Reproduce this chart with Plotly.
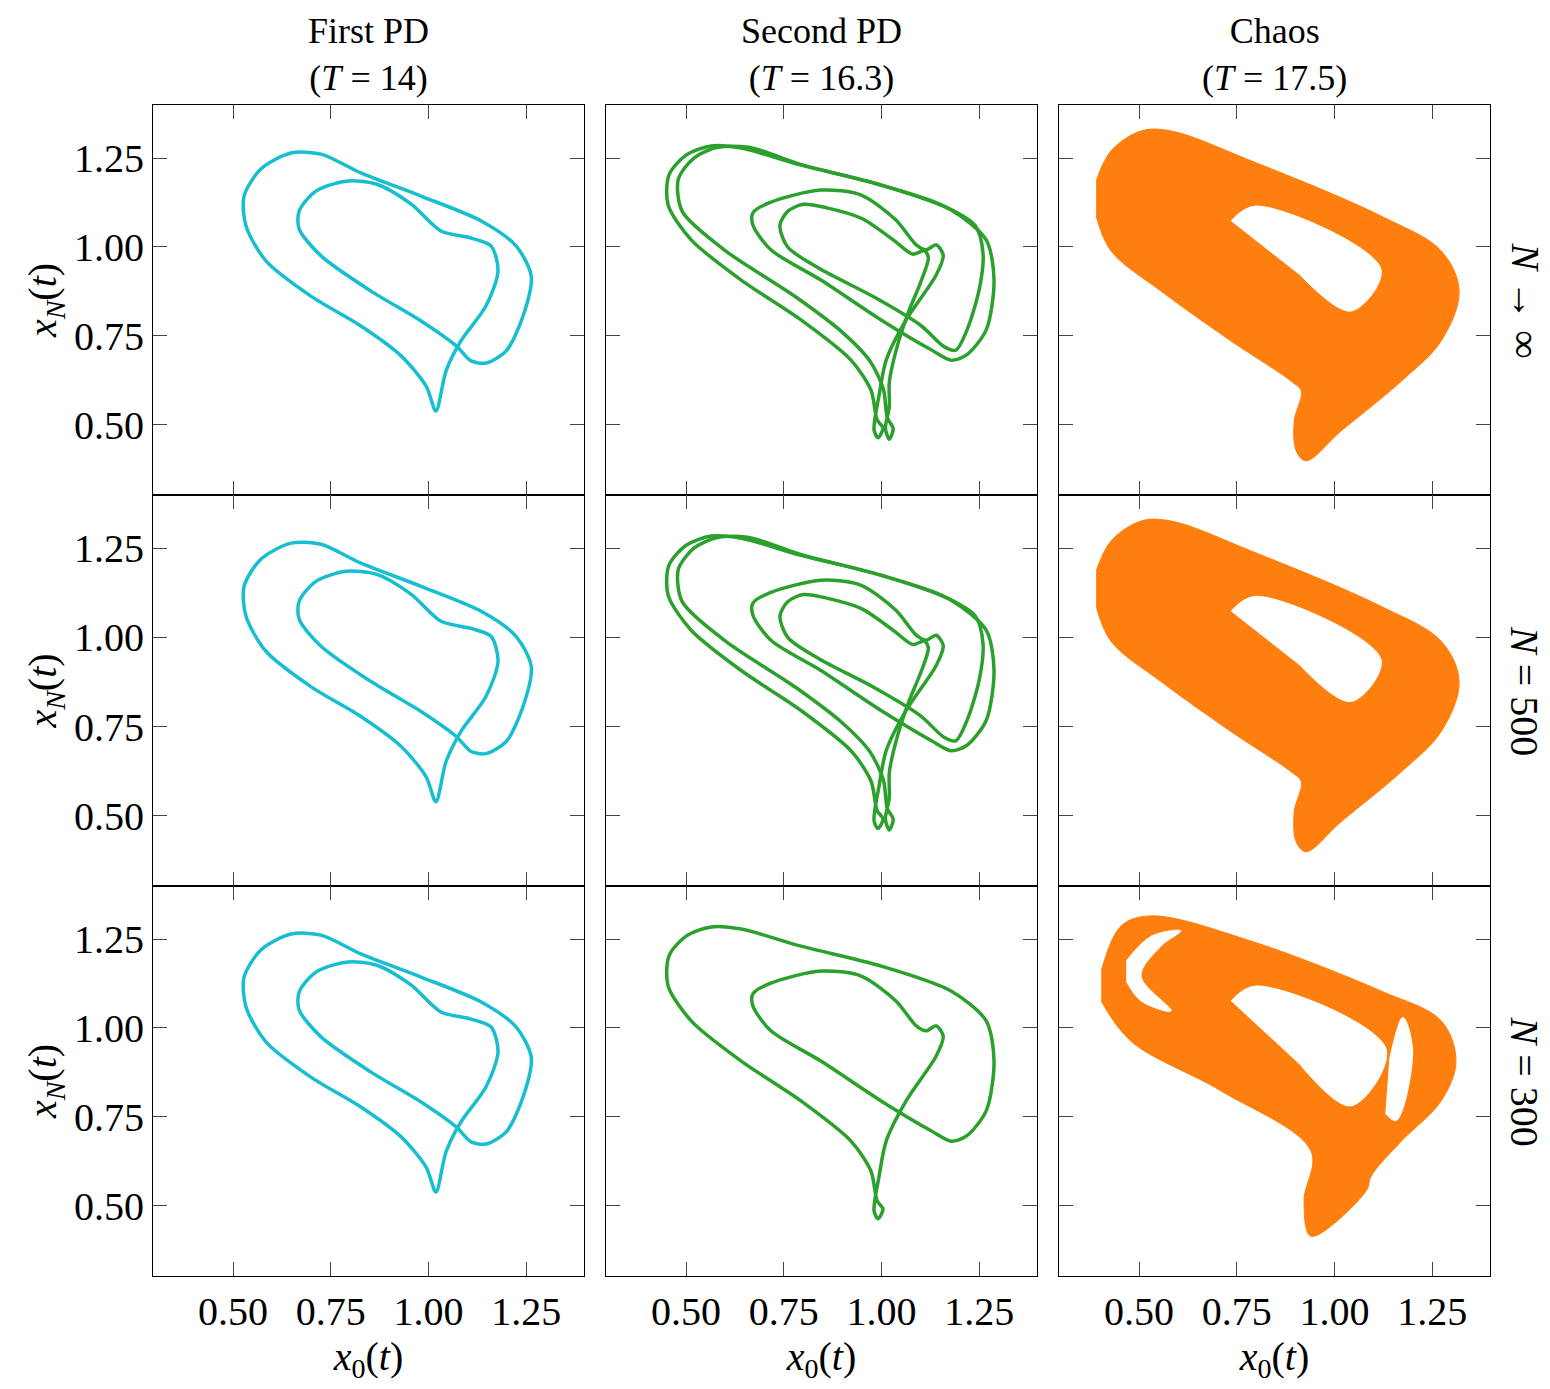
import plotly.graph_objects as go
from plotly.subplots import make_subplots

CYAN, GREEN, ORANGE = "#17becf", "#2ca02c", "#ff7f0e"

col_titles = ["First PD<br>(<i>T</i> = 14)", "Second PD<br>(<i>T</i> = 16.3)", "Chaos<br>(<i>T</i> = 17.5)"]
row_labels = ["<i>N</i> → ∞", "<i>N</i> = 500", "<i>N</i> = 300"]
tick_vals = [0.5, 0.75, 1.0, 1.25]
tick_text = ["0.50", "0.75", "1.00", "1.25"]

# First PD orbit (period 2)
pd1_x = [1.019, 0.994, 0.930, 0.827, 0.699, 0.584, 0.533, 0.528, 0.571, 0.648, 0.725, 0.827, 0.981, 1.135,
         1.224, 1.263, 1.242, 1.199, 1.147, 1.109, 1.071, 0.981, 0.853, 0.725, 0.669, 0.669, 0.712, 0.789,
         0.866, 0.955, 1.032, 1.109, 1.160, 1.178, 1.147, 1.083, 1.045, 1.019]
pd1_y = [0.539, 0.609, 0.694, 0.778, 0.862, 0.961, 1.059, 1.143, 1.219, 1.264, 1.261, 1.208, 1.143, 1.073,
         1.003, 0.918, 0.806, 0.708, 0.674, 0.680, 0.722, 0.792, 0.876, 0.975, 1.051, 1.101, 1.157, 1.185,
         1.177, 1.121, 1.045, 1.025, 1.003, 0.933, 0.834, 0.736, 0.652, 0.539]

# Second PD, first loop pair
pd2a_x = [0.989, 0.973, 0.922, 0.794, 0.641, 0.513, 0.454, 0.456, 0.500, 0.564, 0.641, 0.794, 0.999, 1.178,
          1.268, 1.288, 1.268, 1.217, 1.178, 1.127, 0.999, 0.845, 0.717, 0.671, 0.671, 0.717, 0.845, 0.948,
          1.037, 1.089, 1.114, 1.140, 1.158, 1.140, 1.063, 1.012, 0.994, 0.981, 0.991, 1.004, 0.989]
pd2a_y = [0.514, 0.598, 0.682, 0.795, 0.907, 1.020, 1.118, 1.202, 1.258, 1.284, 1.278, 1.230, 1.174, 1.104,
          1.020, 0.907, 0.767, 0.696, 0.682, 0.711, 0.795, 0.907, 0.992, 1.062, 1.096, 1.126, 1.160, 1.146,
          1.076, 1.006, 0.992, 1.006, 0.977, 0.921, 0.795, 0.682, 0.584, 0.486, 0.464, 0.491, 0.514]

# Second PD, second loop pair
pd2b_x = [1.015, 1.005, 0.97, 0.90, 0.78, 0.60, 0.49, 0.48, 0.52, 0.58, 0.66, 0.80, 0.98, 1.15, 1.24, 1.26,
          1.25, 1.22, 1.19, 1.16, 1.10, 0.98, 0.84, 0.76, 0.74, 0.76, 0.80, 0.86, 0.95, 1.03, 1.08, 1.11,
          1.12, 1.10, 1.07, 1.04, 1.02, 1.02, 1.01, 1.02, 1.03, 1.015]
pd2b_y = [0.52, 0.60, 0.68, 0.76, 0.86, 0.99, 1.10, 1.19, 1.25, 1.28, 1.28, 1.23, 1.18, 1.12, 1.06, 0.98,
          0.88, 0.77, 0.71, 0.72, 0.78, 0.86, 0.94, 1.00, 1.06, 1.10, 1.12, 1.11, 1.08, 1.02, 0.98, 0.99,
          0.97, 0.90, 0.82, 0.72, 0.62, 0.55, 0.49, 0.46, 0.49, 0.52]

# Chaos attractor envelope and hole
chaos_x = [0.390, 0.428, 0.505, 0.582, 0.787, 1.119, 1.273, 1.319, 1.273, 1.171, 1.017, 0.927, 0.902, 0.897,
           0.915, 0.889, 0.735, 0.556, 0.428, 0.390]
chaos_y = [1.185, 1.270, 1.326, 1.326, 1.242, 1.087, 0.989, 0.876, 0.736, 0.623, 0.483, 0.399, 0.427, 0.511,
           0.595, 0.623, 0.736, 0.876, 0.989, 1.087]
hole_x = [0.735, 0.799, 1.119, 1.043, 0.915]
hole_y = [1.073, 1.115, 0.938, 0.820, 0.918]

# Chaos N=300 envelope and gaps
c3_x = [0.403, 0.454, 0.531, 0.787, 1.119, 1.273, 1.311, 1.273, 1.171, 1.094, 1.081, 0.940, 0.922, 0.940,
        0.710, 0.479, 0.403]
c3_y = [1.160, 1.287, 1.315, 1.244, 1.104, 1.020, 0.907, 0.795, 0.682, 0.584, 0.542, 0.415, 0.514, 0.654,
        0.823, 0.963, 1.076]
c3_holes = [
    ([0.735, 0.799, 1.132, 1.043, 0.915], [1.076, 1.118, 0.941, 0.781, 0.893]),
    ([0.467, 0.531, 0.607, 0.556, 0.505, 0.582, 0.505, 0.467], [1.188, 1.258, 1.273, 1.230, 1.146, 1.048, 1.076, 1.132]),
    ([1.140, 1.175, 1.200, 1.158, 1.130], [0.907, 1.030, 0.935, 0.740, 0.760]),
]

fig = make_subplots(rows=3, cols=3)

def line(x, y, color, r, c):
    fig.add_trace(go.Scatter(x=x, y=y, mode="lines", line=dict(color=color, width=3.5, shape="spline", smoothing=0.8),
                             showlegend=False), row=r, col=c)

def blob(x, y, color, r, c):
    fig.add_trace(go.Scatter(x=x, y=y, mode="lines", fill="toself", fillcolor=color,
                             line=dict(color=color, width=1, shape="spline"), showlegend=False), row=r, col=c)

for r in (1, 2, 3):
    line(pd1_x, pd1_y, CYAN, r, 1)
for r in (1, 2):
    line(pd2a_x, pd2a_y, GREEN, r, 2)
    line(pd2b_x, pd2b_y, GREEN, r, 2)
    blob(chaos_x, chaos_y, ORANGE, r, 3)
    blob(hole_x, hole_y, "white", r, 3)
line(pd2a_x, pd2a_y, GREEN, 3, 2)
blob(c3_x, c3_y, ORANGE, 3, 3)
for hx, hy in c3_holes:
    blob(hx, hy, "white", 3, 3)

W, H = 1550, 1389
xdom = [(145, 576), (598, 1029), (1051, 1482)]
ydom = [(97, 487), (487, 878), (878, 1268)]
font = dict(family="Liberation Serif", size=40, color="black")

for r in range(3):
    for c in range(3):
        i = r * 3 + c + 1
        ax = dict(range=[0.295, 1.398], tickvals=tick_vals, ticktext=tick_text, ticks="inside", ticklen=14,
                  tickwidth=1.3, mirror="allticks", showline=True, linecolor="black", linewidth=1.2,
                  showgrid=False, zeroline=False, tickfont=font, automargin=False)
        ay = dict(ax, range=[0.303, 1.399])
        ax["domain"] = [xdom[c][0] / W, xdom[c][1] / W]
        ay["domain"] = [1 - ydom[r][1] / H, 1 - ydom[r][0] / H]
        ax["showticklabels"] = r == 2
        ay["showticklabels"] = c == 0
        if r == 2:
            ax["title"] = dict(text="<i>x</i><sub>0</sub>(<i>t</i>)", font=font, standoff=6)
        if c == 0:
            ay["title"] = dict(text="<i>x</i><sub><i>N</i></sub>(<i>t</i>)", font=font, standoff=4)
        fig.layout["xaxis" + ("" if i == 1 else str(i))].update(ax)
        fig.layout["yaxis" + ("" if i == 1 else str(i))].update(ay)

for c, t in enumerate(col_titles):
    fig.add_annotation(text=t, x=(xdom[c][0] + xdom[c][1]) / 2 / W, y=1 - 92 / H, xref="paper", yref="paper",
                       xanchor="center", yanchor="bottom", showarrow=False, font=dict(font, size=36))
for r, t in enumerate(row_labels):
    fig.add_annotation(text=t, x=1492 / W, y=1 - (ydom[r][0] + ydom[r][1]) / 2 / H, xref="paper", yref="paper",
                       xanchor="left", yanchor="middle", textangle=90, showarrow=False, font=font)

fig.update_layout(width=W, height=H, margin=dict(l=0, r=0, t=0, b=0), plot_bgcolor="white",
                  paper_bgcolor="white", font=font)
fig.write_html("out.html")
